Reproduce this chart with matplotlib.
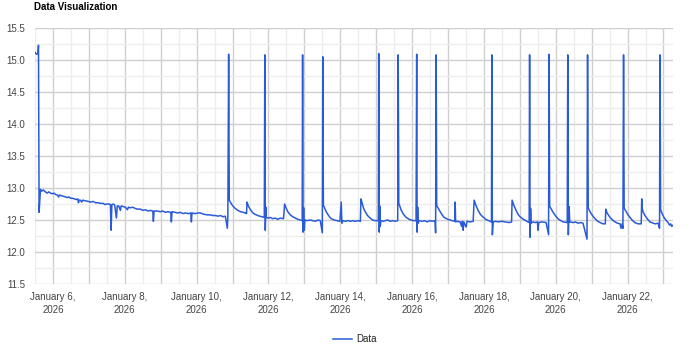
import numpy as np
import pandas as pd
import matplotlib
matplotlib.use("Agg")
import matplotlib.pyplot as plt
import matplotlib.dates as mdates
from matplotlib.ticker import MultipleLocator, FuncFormatter

# time given as day of January 2026 (with fraction of day)
days = [
    5.500, 5.540, 5.580, 5.597, 5.614, 5.652, 5.690, 5.730, 5.791, 5.840,
    5.880, 5.930, 5.980, 6.030, 6.070, 6.120, 6.160, 6.180, 6.230, 6.300,
    6.348, 6.400, 6.450, 6.487, 6.540, 6.600, 6.650, 6.690, 6.710, 6.730,
    6.765, 6.800, 6.830, 6.900, 6.988, 7.050, 7.120, 7.183, 7.250, 7.322,
    7.400, 7.450, 7.489, 7.560, 7.600, 7.619, 7.640, 7.683, 7.720, 7.767,
    7.790, 7.830, 7.878, 7.900, 7.960, 8.017, 8.073, 8.100, 8.156, 8.220,
    8.295, 8.350, 8.435, 8.500, 8.574, 8.650, 8.713, 8.780, 8.796, 8.815,
    8.900, 8.991, 9.060, 9.130, 9.200, 9.280, 9.297, 9.315, 9.400, 9.480,
    9.547, 9.620, 9.686, 9.780, 9.840, 9.854, 9.872, 9.965, 10.040, 10.104,
    10.200, 10.300, 10.382, 10.450, 10.521, 10.600, 10.661, 10.740, 10.800, 10.855,
    10.870, 10.892, 10.910, 10.950, 10.994, 11.040, 11.078, 11.150, 11.217, 11.300,
    11.356, 11.390, 11.403, 11.440, 11.500, 11.551, 11.620, 11.662, 11.750, 11.829,
    11.885, 11.899, 11.912, 11.926, 11.940, 12.000, 12.051, 12.120, 12.191, 12.260,
    12.330, 12.420, 12.450, 12.497, 12.550, 12.608, 12.680, 12.747, 12.820, 12.886,
    12.940, 12.951, 12.965, 12.980, 12.998, 13.015, 13.080, 13.165, 13.230, 13.304,
    13.380, 13.443, 13.500, 13.513, 13.530, 13.555, 13.600, 13.638, 13.700, 13.749,
    13.830, 13.916, 13.990, 14.027, 14.045, 14.070, 14.139, 14.210, 14.278, 14.350,
    14.417, 14.500, 14.560, 14.575, 14.612, 14.650, 14.695, 14.760, 14.834, 14.900,
    14.974, 15.060, 15.071, 15.085, 15.100, 15.113, 15.130, 15.200, 15.252, 15.320,
    15.391, 15.460, 15.530, 15.600, 15.613, 15.630, 15.655, 15.700, 15.760, 15.836,
    15.920, 16.031, 16.110, 16.128, 16.140, 16.155, 16.170, 16.190, 16.281, 16.350,
    16.420, 16.490, 16.559, 16.640, 16.655, 16.670, 16.685, 16.712, 16.782, 16.850,
    16.893, 17.000, 17.116, 17.190, 17.199, 17.212, 17.260, 17.338, 17.380, 17.400,
    17.422, 17.440, 17.470, 17.505, 17.530, 17.616, 17.700, 17.728, 17.770, 17.839,
    17.900, 17.950, 18.050, 18.173, 18.210, 18.220, 18.235, 18.256, 18.330, 18.395,
    18.500, 18.590, 18.700, 18.770, 18.785, 18.827, 18.896, 18.960, 19.008, 19.100,
    19.230, 19.260, 19.272, 19.285, 19.300, 19.314, 19.370, 19.425, 19.490, 19.508,
    19.525, 19.620, 19.731, 19.800, 19.815, 19.830, 19.856, 19.926, 20.000, 20.080,
    20.204, 20.320, 20.335, 20.350, 20.371, 20.390, 20.482, 20.550, 20.621, 20.700,
    20.760, 20.870, 20.886, 20.905, 20.927, 20.983, 21.050, 21.095, 21.170, 21.234,
    21.317, 21.380, 21.392, 21.429, 21.512, 21.580, 21.651, 21.720, 21.790, 21.818,
    21.850, 21.870, 21.888, 21.905, 21.929, 22.013, 22.080, 22.124, 22.200, 22.291,
    22.380, 22.394, 22.410, 22.430, 22.485, 22.560, 22.625, 22.764, 22.850, 22.890,
    22.903, 22.920, 22.945, 23.014, 23.080, 23.126, 23.170, 23.200, 23.230, 23.265,
]
values = [
    15.12, 15.09, 15.10, 15.23, 12.62, 12.98, 12.95, 12.97, 12.94, 12.92,
    12.94, 12.92, 12.91, 12.92, 12.90, 12.89, 12.86, 12.89, 12.88, 12.87,
    12.86, 12.85, 12.86, 12.84, 12.84, 12.83, 12.82, 12.83, 12.77, 12.81,
    12.81, 12.78, 12.81, 12.80, 12.79, 12.78, 12.79, 12.77, 12.77, 12.76,
    12.76, 12.74, 12.75, 12.75, 12.74, 12.34, 12.74, 12.75, 12.73, 12.53,
    12.72, 12.72, 12.65, 12.72, 12.71, 12.70, 12.66, 12.70, 12.69, 12.70,
    12.68, 12.67, 12.67, 12.65, 12.66, 12.64, 12.65, 12.64, 12.48, 12.64,
    12.64, 12.63, 12.64, 12.62, 12.63, 12.62, 12.47, 12.63, 12.62, 12.61,
    12.62, 12.60, 12.61, 12.60, 12.61, 12.47, 12.61, 12.60, 12.61, 12.61,
    12.59, 12.58, 12.58, 12.57, 12.57, 12.56, 12.57, 12.55, 12.56, 12.37,
    12.55, 15.09, 12.81, 12.77, 12.73, 12.70, 12.68, 12.65, 12.63, 12.62,
    12.61, 12.60, 12.78, 12.72, 12.66, 12.62, 12.59, 12.58, 12.56, 12.55,
    12.54, 15.08, 12.34, 12.70, 12.54, 12.53, 12.54, 12.52, 12.53, 12.51,
    12.53, 12.52, 12.75, 12.68, 12.62, 12.58, 12.55, 12.53, 12.51, 12.50,
    12.49, 15.08, 12.31, 12.69, 12.34, 12.50, 12.49, 12.50, 12.49, 12.48,
    12.50, 12.49, 12.30, 15.05, 12.73, 12.70, 12.64, 12.60, 12.55, 12.52,
    12.50, 12.49, 12.48, 12.78, 12.45, 12.49, 12.48, 12.49, 12.48, 12.49,
    12.48, 12.49, 12.48, 12.83, 12.76, 12.68, 12.63, 12.57, 12.53, 12.50,
    12.49, 12.49, 15.10, 12.31, 12.72, 12.40, 12.49, 12.48, 12.49, 12.50,
    12.48, 12.49, 12.48, 12.49, 15.08, 12.76, 12.72, 12.65, 12.59, 12.54,
    12.51, 12.49, 12.49, 15.09, 12.31, 12.70, 12.45, 12.49, 12.48, 12.49,
    12.47, 12.49, 12.48, 12.49, 12.30, 15.08, 12.73, 12.70, 12.63, 12.57,
    12.54, 12.51, 12.49, 12.48, 12.78, 12.47, 12.48, 12.47, 12.40, 12.48,
    12.34, 12.47, 12.43, 12.39, 12.48, 12.47, 12.48, 12.81, 12.74, 12.65,
    12.59, 12.56, 12.51, 12.48, 12.47, 15.08, 12.27, 12.47, 12.48, 12.47,
    12.48, 12.47, 12.46, 12.47, 12.81, 12.74, 12.65, 12.58, 12.55, 12.51,
    12.47, 12.46, 15.08, 12.23, 12.68, 12.45, 12.47, 12.46, 12.47, 12.34,
    12.46, 12.47, 12.46, 12.27, 15.09, 12.72, 12.69, 12.62, 12.56, 12.51,
    12.47, 12.46, 15.08, 12.27, 12.71, 12.47, 12.46, 12.47, 12.45, 12.46,
    12.45, 12.20, 15.08, 12.69, 12.66, 12.60, 12.55, 12.52, 12.48, 12.46,
    12.44, 12.44, 12.67, 12.61, 12.54, 12.50, 12.47, 12.45, 12.44, 12.37,
    12.44, 12.37, 15.08, 12.69, 12.66, 12.58, 12.53, 12.50, 12.46, 12.44,
    12.44, 12.83, 12.68, 12.63, 12.57, 12.51, 12.47, 12.44, 12.45, 12.37,
    15.08, 12.67, 12.62, 12.54, 12.49, 12.46, 12.42, 12.44, 12.40, 12.42,
]

start = pd.Timestamp("2026-01-01")
times = [start + pd.Timedelta(days=d - 1) for d in days]

line_color = "#2a5bd7"
font = ["Liberation Sans", "DejaVu Sans"]
plt.rcParams["font.family"] = font

fig = plt.figure(figsize=(6.9, 3.47), dpi=100)
ax = fig.add_axes([35 / 690, 1 - 284 / 347, (673 - 35) / 690, (284 - 28) / 347])

ax.plot(times, values, color=line_color, linewidth=1.1, label="Data")

ax.set_xlim(times[0], times[-1])
ax.set_ylim(11.5, 15.5)

ax.yaxis.set_major_locator(MultipleLocator(0.5))
ax.yaxis.set_minor_locator(MultipleLocator(0.25))
ax.yaxis.set_major_formatter(FuncFormatter(lambda v, p: f"{v:.1f}"))

ax.xaxis.set_major_locator(mdates.DayLocator(interval=1))
ax.xaxis.set_minor_locator(mdates.HourLocator(byhour=[12]))


def date_label(v, p):
    d = mdates.num2date(v)
    if d.day % 2 == 0:
        return d.strftime("%B ") + str(d.day) + ",\n" + d.strftime("%Y")
    return ""


ax.xaxis.set_major_formatter(FuncFormatter(date_label))

ax.grid(which="major", color="#cfcfcf", linewidth=1.0)
ax.grid(which="minor", color="#ededed", linewidth=1.0)
ax.set_axisbelow(True)
for s in ax.spines.values():
    s.set_visible(False)

ax.tick_params(which="both", length=0)
ax.tick_params(axis="y", pad=7, labelsize=7, labelcolor="#444444")
ax.tick_params(axis="x", pad=6, labelsize=7, labelcolor="#444444")
for lbl in ax.get_xticklabels():
    lbl.set_linespacing(1.35)

fig.text(34 / 690, 1 - 7 / 347, "Data Visualization", fontsize=7, fontweight="bold",
         ha="left", va="center", color="#000000")

fig.legend(loc="center", bbox_to_anchor=(355 / 690, 1 - 339 / 347), frameon=False,
           fontsize=7, handlelength=1.95, handletextpad=0.5, labelcolor="#222222")

fig.savefig("out.png", dpi=100)
